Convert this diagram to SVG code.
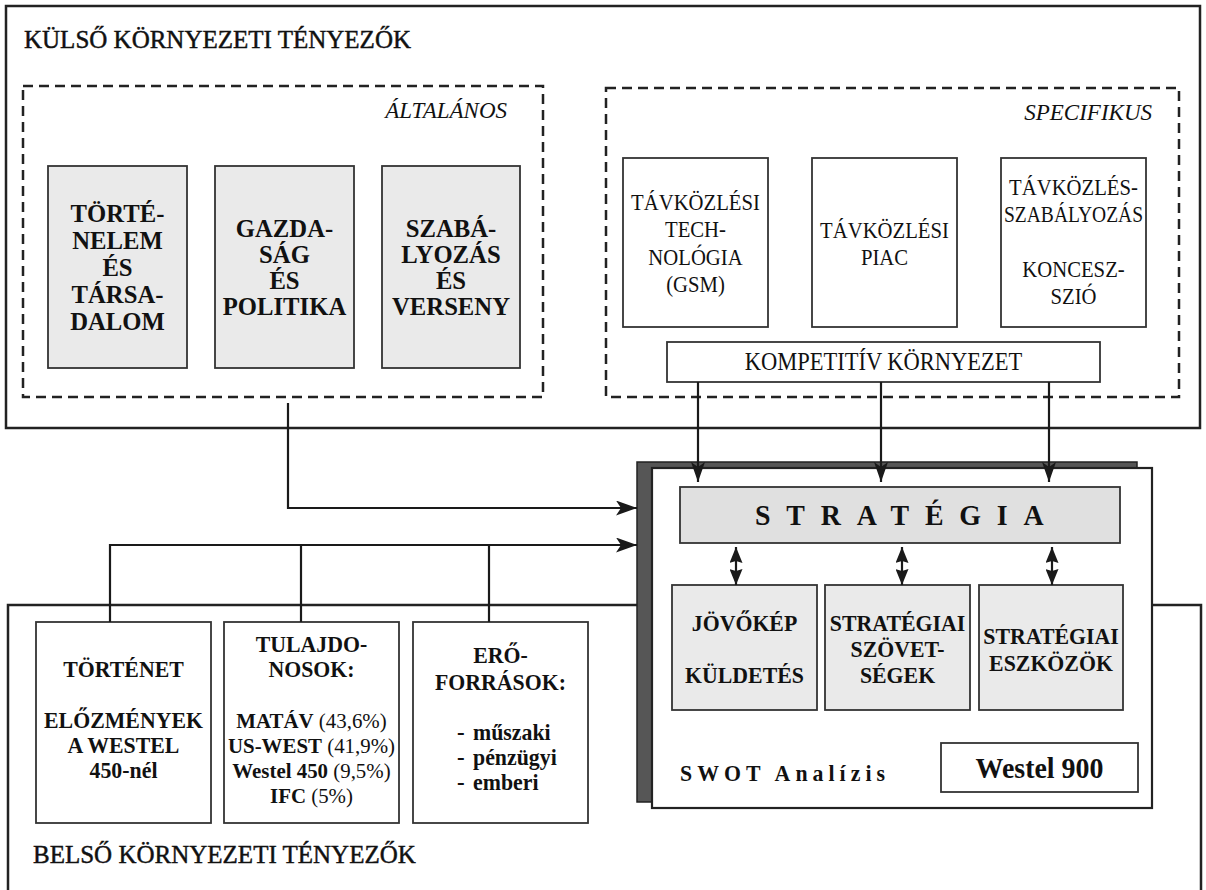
<svg xmlns="http://www.w3.org/2000/svg" width="1206" height="890" viewBox="0 0 1206 890">
<defs>
<style>
text{font-family:"Liberation Serif","Times New Roman",serif;fill:#111}
.b{font-weight:bold}
.c{text-anchor:middle}
.it{font-style:italic;text-anchor:end;font-size:23px}
.ttl{font-size:25px;stroke:#111;stroke-width:0.45}
.frame{fill:none;stroke:#222;stroke-width:2.5}
.dash{fill:none;stroke:#222;stroke-width:2.5;stroke-dasharray:10 6}
.gray{fill:#eaeaea;stroke:#333;stroke-width:1.8}
.white{fill:#fff;stroke:#333;stroke-width:1.8}
.conn{fill:none;stroke:#1a1a1a;stroke-width:2.2}
.t26{font-size:26px}
.t23{font-size:23px}
.t22{font-size:22px}
.t25{font-size:25px}
.n{font-weight:normal}
</style>
<marker id="ah" viewBox="0 0 21 15" refX="21" refY="7.5" markerWidth="21" markerHeight="15" markerUnits="userSpaceOnUse" orient="auto"><path d="M0,0 L21,7.5 L0,15 L5,7.5 z" fill="#1a1a1a"/></marker>
<marker id="ad" viewBox="0 0 20 14" refX="20" refY="7" markerWidth="20" markerHeight="14" markerUnits="userSpaceOnUse" orient="auto"><path d="M0,0 L20,7 L0,14 L5,7 z" fill="#1a1a1a"/></marker>
<marker id="dd" viewBox="0 0 16 13" refX="16" refY="6.5" markerWidth="16" markerHeight="13" markerUnits="userSpaceOnUse" orient="auto-start-reverse"><path d="M0,0 L16,6.5 L0,13 L2,6.5 z" fill="#1a1a1a"/></marker>
</defs>
<rect width="1206" height="890" fill="#fff"/>

<g id="kulso">
<rect class="frame" x="6" y="6" width="1194" height="422"/>
<text class="ttl" x="24" y="48">KÜLSŐ KÖRNYEZETI TÉNYEZŐK</text>
</g>
<g id="altalanos">
<rect class="dash" x="23" y="86" width="520" height="311"/>
<text class="it" x="507" y="118">ÁLTALÁNOS</text>
</g>
<g id="specifikus">
<rect class="dash" x="606" y="88" width="573" height="309"/>
<text class="it" x="1152" y="120">SPECIFIKUS</text>
</g>

<g id="tortenelem">
<rect class="gray" x="48" y="166" width="139" height="202"/>
<text class="b c t26" transform="translate(117.5 222) scale(.95 1)">TÖRTÉ-</text>
<text class="b c t26" transform="translate(117.5 249) scale(.95 1)">NELEM</text>
<text class="b c t26" transform="translate(117.5 276) scale(.95 1)">ÉS</text>
<text class="b c t26" transform="translate(117.5 303) scale(.95 1)">TÁRSA-</text>
<text class="b c t26" transform="translate(117.5 330) scale(.95 1)">DALOM</text>
</g>
<g id="gazdasag">
<rect class="gray" x="215" y="166" width="139" height="202"/>
<text class="b c t26" transform="translate(284.5 237) scale(.95 1)">GAZDA-</text>
<text class="b c t26" transform="translate(284.5 263) scale(.95 1)">SÁG</text>
<text class="b c t26" transform="translate(284.5 289) scale(.95 1)">ÉS</text>
<text class="b c t26" transform="translate(284.5 315) scale(.95 1)">POLITIKA</text>
</g>
<g id="szabalyozas">
<rect class="gray" x="382" y="166" width="138" height="202"/>
<text class="b c t26" transform="translate(451 237) scale(.95 1)">SZABÁ-</text>
<text class="b c t26" transform="translate(451 263) scale(.95 1)">LYOZÁS</text>
<text class="b c t26" transform="translate(451 289) scale(.95 1)">ÉS</text>
<text class="b c t26" transform="translate(451 315) scale(.95 1)">VERSENY</text>
</g>

<g id="tavkozlesi-technologia">
<rect class="white" x="623" y="158" width="145" height="169"/>
<text class="c t23" transform="translate(695.5 210) scale(.9 1)">TÁVKÖZLÉSI</text>
<text class="c t23" transform="translate(695.5 237) scale(.9 1)">TECH-</text>
<text class="c t23" transform="translate(695.5 265) scale(.9 1)">NOLÓGIA</text>
<text class="c t23" transform="translate(695.5 292) scale(.9 1)">(GSM)</text>
</g>
<g id="tavkozlesi-piac">
<rect class="white" x="812" y="158" width="145" height="169"/>
<text class="c t23" transform="translate(884.5 238) scale(.9 1)">TÁVKÖZLÉSI</text>
<text class="c t23" transform="translate(884.5 265) scale(.9 1)">PIAC</text>
</g>
<g id="tavkozles-szabalyozas">
<rect class="white" x="1001" y="158" width="145" height="169"/>
<text class="c t23" transform="translate(1073.5 195) scale(.9 1)">TÁVKÖZLÉS-</text>
<text class="c t23" x="1073.5" y="222" textLength="139" lengthAdjust="spacingAndGlyphs">SZABÁLYOZÁS</text>
<text class="c t23" transform="translate(1073.5 277) scale(.9 1)">KONCESZ-</text>
<text class="c t23" transform="translate(1073.5 304) scale(.9 1)">SZIÓ</text>
</g>
<g id="kompetitiv">
<rect class="white" x="667" y="342" width="433" height="40"/>
<text class="c t25" transform="translate(883.5 370) scale(.9 1)">KOMPETITÍV KÖRNYEZET</text>
</g>

<g id="belso">
<path class="frame" d="M8,893 V605 H1201 V893"/>
<text class="ttl" x="33" y="863">BELSŐ KÖRNYEZETI TÉNYEZŐK</text>
</g>
<g id="tortenet">
<rect class="white" x="36" y="622" width="175" height="201"/>
<text class="b c t23" transform="translate(123.5 677) scale(.95 1)">TÖRTÉNET</text>
<text class="b c t23" transform="translate(123.5 728) scale(.95 1)">ELŐZMÉNYEK</text>
<text class="b c t23" transform="translate(123.5 753) scale(.95 1)">A WESTEL</text>
<text class="b c t23" transform="translate(123.5 778) scale(.95 1)">450-nél</text>
</g>
<g id="tulajdonosok">
<rect class="white" x="224" y="622" width="175" height="201"/>
<text class="b c t23" transform="translate(311.5 652) scale(.95 1)">TULAJDO-</text>
<text class="b c t23" transform="translate(311.5 677) scale(.95 1)">NOSOK:</text>
<text class="b c t22" transform="translate(311.5 728) scale(.95 1)">MATÁV<tspan class="n"> (43,6%)</tspan></text>
<text class="b c t22" transform="translate(311.5 753) scale(.95 1)">US-WEST<tspan class="n"> (41,9%)</tspan></text>
<text class="b c t22" transform="translate(311.5 778) scale(.95 1)">Westel 450<tspan class="n"> (9,5%)</tspan></text>
<text class="b c t22" transform="translate(311.5 803) scale(.95 1)">IFC<tspan class="n">  (5%)</tspan></text>
</g>
<g id="eroforrasok">
<rect class="white" x="413" y="622" width="175" height="201"/>
<text class="b c t23" transform="translate(500.5 663) scale(.95 1)">ERŐ-</text>
<text class="b c t23" transform="translate(500.5 690) scale(.95 1)">FORRÁSOK:</text>
<text class="b t23" x="457" y="740">-</text>
<text class="b t23" transform="translate(473 740) scale(.95 1)">műszaki</text>
<text class="b t23" x="457" y="765">-</text>
<text class="b t23" transform="translate(473 765) scale(.95 1)">pénzügyi</text>
<text class="b t23" x="457" y="790">-</text>
<text class="b t23" transform="translate(473 790) scale(.95 1)">emberi</text>
</g>

<g id="swot-westel900">
<rect x="637" y="462" width="500" height="340" fill="#565656" stroke="#222" stroke-width="1.5"/>
<rect x="652" y="468" width="500" height="340" fill="#fff" stroke="#222" stroke-width="2.2"/>
<text class="b t23" transform="translate(680 781) scale(.95 1)" letter-spacing="5.3">SWOT Analízis</text>
</g>
<g id="strategia">
<rect x="680" y="487" width="440" height="56" fill="#e0e0e0" stroke="#333" stroke-width="1.8"/>
<text class="b" transform="translate(755 525) scale(.93 1)" font-size="30" letter-spacing="17">STRATÉGIA</text>
</g>
<g id="jovokep">
<rect class="gray" x="672" y="585" width="145" height="125"/>
<text class="b c t23" transform="translate(744.5 631) scale(.95 1)">JÖVŐKÉP</text>
<text class="b c t23" transform="translate(744.5 683) scale(.95 1)">KÜLDETÉS</text>
</g>
<g id="szovetsegek">
<rect class="gray" x="825" y="585" width="145" height="125"/>
<text class="b c t23" transform="translate(897.5 631) scale(.95 1)">STRATÉGIAI</text>
<text class="b c t23" transform="translate(897.5 657) scale(.95 1)">SZÖVET-</text>
<text class="b c t23" transform="translate(897.5 683) scale(.95 1)">SÉGEK</text>
</g>
<g id="eszkozok">
<rect class="gray" x="979" y="585" width="144" height="125"/>
<text class="b c t23" transform="translate(1051 644) scale(.95 1)">STRATÉGIAI</text>
<text class="b c t23" transform="translate(1051 671) scale(.95 1)">ESZKÖZÖK</text>
</g>
<g id="westel900">
<rect class="white" x="941" y="743" width="197" height="49"/>
<text class="b c" transform="translate(1039.5 778) scale(.93 1)" font-size="30">Westel 900</text>
</g>

<g id="connectors" class="conn">
<path d="M288,403 V508 H637" marker-end="url(#ah)"/>
<path d="M110,622 V545 H637" marker-end="url(#ah)"/>
<path d="M301,622 V545"/>
<path d="M489,622 V545"/>
<path d="M698,382 V482" marker-end="url(#ad)"/>
<path d="M881,382 V482" marker-end="url(#ad)"/>
<path d="M1049,382 V482" marker-end="url(#ad)"/>
<path d="M736,547 V585" marker-start="url(#dd)" marker-end="url(#dd)"/>
<path d="M902,547 V585" marker-start="url(#dd)" marker-end="url(#dd)"/>
<path d="M1052,547 V585" marker-start="url(#dd)" marker-end="url(#dd)"/>
</g>
</svg>
